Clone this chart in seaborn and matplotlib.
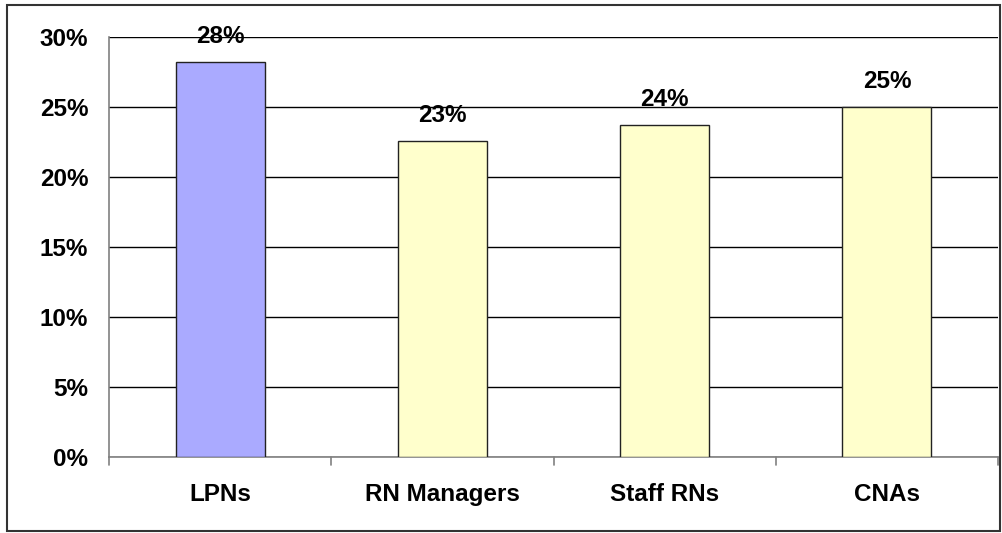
import matplotlib
matplotlib.use("Agg")
import matplotlib.pyplot as plt
import matplotlib.patches as patches
import seaborn as sns
import pandas as pd
from matplotlib.ticker import FuncFormatter, MultipleLocator

# === data ===
categories = ["LPNs", "RN Managers", "Staff RNs", "CNAs"]
values = [28.2, 22.6, 23.7, 25.0]
bar_labels = ["28%", "23%", "24%", "25%"]
bar_colors = ["#AAAAFF", "#FFFFCC", "#FFFFCC", "#FFFFCC"]

df = pd.DataFrame({"group": categories, "pct": values})

sns.set_style("white")
plt.rcParams["font.family"] = ["Liberation Sans", "DejaVu Sans"]
plt.rcParams["text.color"] = "black"
plt.rcParams["xtick.color"] = "black"
plt.rcParams["ytick.color"] = "black"

W, H = 1002, 533
fig = plt.figure(figsize=(W / 100, H / 100), dpi=100)
ax = fig.add_axes([109 / W, (H - 457) / H, (998 - 109) / W, (457 - 37) / H])

sns.barplot(data=df, x="group", y="pct", hue="group", palette=bar_colors,
            saturation=1, width=0.4, edgecolor="#222222", linewidth=1.0,
            legend=False, ax=ax, zorder=3)

ax.set_ylim(0, 30)
ax.set_xlim(-0.5, 3.5)
ax.yaxis.set_major_locator(MultipleLocator(5))
ax.yaxis.set_major_formatter(FuncFormatter(lambda v, p: f"{v:.0f}%"))
ax.grid(axis="y", color="black", linewidth=1.0, zorder=0)
ax.set_axisbelow(True)

for s in ["top", "right"]:
    ax.spines[s].set_visible(False)
for s in ["left", "bottom"]:
    ax.spines[s].set_color("#808080")
    ax.spines[s].set_linewidth(1.2)

ax.tick_params(axis="y", length=8, width=1.0, color="#808080", pad=7,
               labelsize=17.5, labelcolor="black")
ax.tick_params(axis="x", length=0, pad=19, labelsize=17.5, labelcolor="black")
for lbl in ax.get_xticklabels() + ax.get_yticklabels():
    lbl.set_fontweight("bold")

# small tick marks between categories
for xb in [-0.5, 0.5, 1.5, 2.5, 3.5]:
    ax.plot([xb, xb], [0, -0.55], color="#808080", lw=1.2, clip_on=False)

ax.set_xlabel("")
ax.set_ylabel("")

for i, (v, t) in enumerate(zip(values, bar_labels)):
    ax.annotate(t, (i, v), xytext=(0, 10), textcoords="offset points",
                ha="center", va="bottom", fontsize=17.5, fontweight="bold",
                color="black")

# outer frame
fig.patches.append(patches.Rectangle((6.5 / W, 2 / H), (1000 - 6.5) / W, (528 - 2) / H,
                                     transform=fig.transFigure, fill=False,
                                     edgecolor="#333333", linewidth=1.5))

fig.savefig("out.png", dpi=100)
